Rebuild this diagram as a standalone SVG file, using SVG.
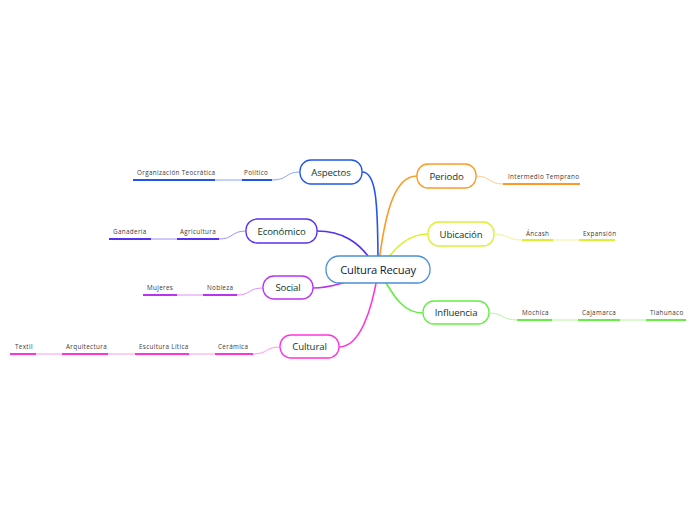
<svg xmlns="http://www.w3.org/2000/svg" width="696" height="520" viewBox="0 0 696 520">
<style>
.main{fill:#fff;stroke-width:1.3}
.mt{font-family:"Open Sans","Liberation Sans",sans-serif;font-size:9.6px;fill:#0d3a2c;text-anchor:middle;letter-spacing:-0.1px}
.ct{font-family:"Open Sans","Liberation Sans",sans-serif;font-size:11.2px;fill:#0e1c3c;text-anchor:middle;letter-spacing:-0.2px}
.st{font-family:"Open Sans","Liberation Sans",sans-serif;font-size:6.3px;fill:#3a3a3a;letter-spacing:0.35px}
.br{fill:none;stroke-width:1.6}
.ul{fill:none;stroke-width:1.8}
.lk{fill:none;stroke-width:1}
</style>
<rect width="696" height="520" fill="#fff"/>
<g id="connectors">
<path class="br" stroke="#2255ee" d="M378,268 C378,200 376,172 362,172"/>
<path class="br" stroke="#5533ee" d="M376,268 C360,240 340,231 317,231"/>
<path class="br" stroke="#bb33ee" d="M376,270 C350,282 330,288 313,288"/>
<path class="br" stroke="#ff33dd" d="M378,272 C372,310 360,347 339,347"/>
<path class="br" stroke="#ff9922" d="M378,270 C385,210 395,176 417,176"/>
<path class="br" stroke="#ddee33" d="M380,270 C395,245 410,234 428,234"/>
<path class="br" stroke="#66ee44" d="M380,272 C395,300 405,313 423,313"/>
<path class="lk" stroke="#8aa6f6" d="M300,172 C285,172 288,180 272,180 M242,180 L215,180"/>
<path class="ul" stroke="#2255ee" d="M242,180 H272 M133,180 H215"/>
<path class="lk" stroke="#a090f5" d="M246,231 C231,231 234,239 219,239 M177,239 L151,239"/>
<path class="ul" stroke="#5533ee" d="M177,239 H219 M109,239 H151"/>
<path class="lk" stroke="#dc90f5" d="M263,288 C248,288 251,295 237,295 M203,295 L177,295"/>
<path class="ul" stroke="#bb33ee" d="M203,295 H237 M143,295 H177"/>
<path class="lk" stroke="#ff99ee" d="M280,347 C265,347 268,354 253,354 M215,354 L189,354 M135,354 L108,354 M62,354 L36,354"/>
<path class="ul" stroke="#ff33dd" d="M215,354 H253 M135,354 H189 M62,354 H108 M10,354 H36"/>
<path class="lk" stroke="#ffcc90" d="M476,176 C490,176 489,184 503,184"/>
<path class="ul" stroke="#ff9922" d="M503,184 H580"/>
<path class="lk" stroke="#eef599" d="M494,234 C508,234 507,240 522,240 M553,240 L579,240"/>
<path class="ul" stroke="#ddee33" d="M522,240 H553 M579,240 H615"/>
<path class="lk" stroke="#b3f5a0" d="M489,313 C503,313 502,320 517,320 M552,320 L578,320 M620,320 L646,320"/>
<path class="ul" stroke="#66ee44" d="M517,320 H552 M578,320 H620 M646,320 H686"/>
</g>
<g id="central">
<rect x="326" y="256" width="104" height="27" rx="13" fill="#fff" stroke="#4a90d9" stroke-width="1.3"/>
<text class="ct" x="378" y="273.8">Cultura Recuay</text>
</g>
<g id="aspectos">
<rect class="main" x="300" y="160" width="62" height="24" rx="11" stroke="#2255ee"/>
<text class="mt" x="331" y="175.5">Aspectos</text>
<text class="st" x="244" y="175">Político</text>
<text class="st" x="137" y="175">Organización Teocrática</text>
</g>
<g id="economico">
<rect class="main" x="246" y="219" width="71" height="24" rx="11" stroke="#5533ee"/>
<text class="mt" x="281.5" y="234.5">Económico</text>
<text class="st" x="180" y="234">Agricultura</text>
<text class="st" x="113" y="234">Ganadería</text>
</g>
<g id="social">
<rect class="main" x="263" y="276" width="50" height="23" rx="11" stroke="#bb33ee"/>
<text class="mt" x="288" y="291">Social</text>
<text class="st" x="207" y="290">Nobleza</text>
<text class="st" x="147" y="290">Mujeres</text>
</g>
<g id="cultural">
<rect class="main" x="280" y="335" width="59" height="23" rx="11" stroke="#ff33dd"/>
<text class="mt" x="309.5" y="350">Cultural</text>
<text class="st" x="218" y="349">Cerámica</text>
<text class="st" x="139" y="349">Escultura Lítica</text>
<text class="st" x="66" y="349">Arquitectura</text>
<text class="st" x="15" y="349">Textil</text>
</g>
<g id="periodo">
<rect class="main" x="417" y="164" width="59" height="24" rx="11" stroke="#ff9922"/>
<text class="mt" x="446.5" y="179.5">Periodo</text>
<text class="st" x="508" y="179">Intermedio  Temprano</text>
</g>
<g id="ubicacion">
<rect class="main" x="428" y="222" width="66" height="24" rx="11" stroke="#ddee33"/>
<text class="mt" x="461" y="237.5">Ubicación</text>
<text class="st" x="526" y="236">Áncash</text>
<text class="st" x="583" y="236">Expansión</text>
</g>
<g id="influencia">
<rect class="main" x="423" y="301" width="66" height="23" rx="11" stroke="#66ee44"/>
<text class="mt" x="456" y="316">Influencia</text>
<text class="st" x="522" y="315">Mochica</text>
<text class="st" x="582" y="315">Cajamarca</text>
<text class="st" x="650" y="315">Tiahunaco</text>
</g>
</svg>
